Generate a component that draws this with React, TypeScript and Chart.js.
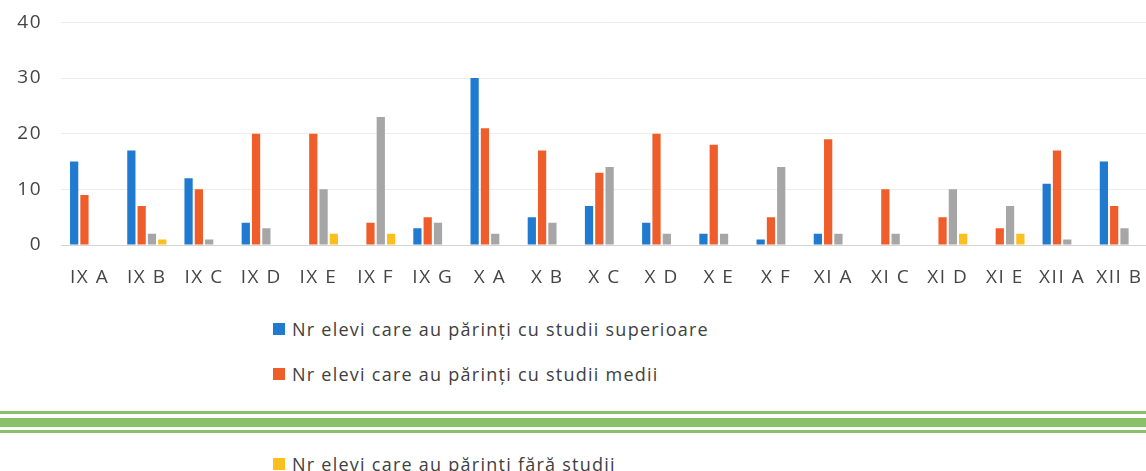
import React, { useEffect, useRef } from "react";
import { Chart, registerables } from "chart.js";

Chart.register(...registerables);

const categories = ["IX A", "IX B", "IX C", "IX D", "IX E", "IX F", "IX G", "X A", "X B", "X C", "X D", "X E", "X F", "XI A", "XI C", "XI D", "XI E", "XII A", "XII B"];
const superioare = [15, 17, 12, 4, 0, 0, 3, 30, 5, 7, 4, 2, 1, 2, 0, 0, 0, 11, 15];
const medii = [9, 7, 10, 20, 20, 4, 5, 21, 17, 13, 20, 18, 5, 19, 10, 5, 3, 17, 7];
const gimnaziale = [0, 2, 1, 3, 10, 23, 4, 2, 4, 14, 2, 2, 14, 2, 2, 10, 7, 1, 3];
const faraStudii = [0, 1, 0, 0, 2, 2, 0, 0, 0, 0, 0, 0, 0, 0, 0, 2, 2, 0, 0];
const seriesLabels = [
  "Nr elevi care au părinți cu studii superioare",
  "Nr elevi care au părinți cu studii medii",
  "Nr elevi care au părinți cu studii gimnaziale/școală profesională",
  "Nr elevi care au părinți fără studii",
];
const seriesColors = ["#1f7ad0", "#ef5d2a", "#a6a6a6", "#fbc01e"];
const yTicks = [0, 10, 20, 30, 40];

const FONT = "'Open Sans', sans-serif";

export default function App() {
  const ref = useRef<HTMLCanvasElement | null>(null);
  useEffect(() => {
    if (!ref.current) return;
    const spacing = {
      id: "spacing",
      beforeDraw(chart: any) {
        chart.ctx.letterSpacing = "1.5px";
      },
    };
    const chart = new Chart(ref.current, {
      type: "bar",
      data: {
        labels: categories,
        datasets: [superioare, medii, gimnaziale, faraStudii].map((d, i) => ({
          label: seriesLabels[i],
          data: d,
          backgroundColor: seriesColors[i],
          borderWidth: 0,
          categoryPercentage: 0.72,
          barPercentage: 0.8,
        })),
      },
      options: {
        responsive: false,
        animation: false,
        layout: { padding: { top: 12, right: 10, left: 0, bottom: 0 } },
        plugins: { legend: { display: false }, tooltip: { enabled: false } },
        scales: {
          x: {
            grid: { display: false, drawTicks: false },
            border: { display: true, color: "#d4d4d4", width: 1 },
            ticks: { font: { family: FONT, size: 19 }, color: "#454545", padding: 21, maxRotation: 0, autoSkip: false },
            afterFit: (s: any) => { s.height = 55; },
          },
          y: {
            min: 0,
            max: 40,
            afterBuildTicks: (s: any) => { s.ticks = yTicks.map((v) => ({ value: v })); },
            grid: { color: "#ececec", drawTicks: false },
            border: { display: false },
            ticks: { font: { family: FONT, size: 19 }, color: "#454545", padding: 19 },
            afterFit: (s: any) => { s.width = 61; },
          },
        },
      },
      plugins: [spacing],
    });
    return () => chart.destroy();
  }, []);

  const greenLines = [
    { top: 411, h: 3 },
    { top: 418, h: 9 },
    { top: 430, h: 3 },
  ];

  return (
    <div style={{ position: "fixed", left: 0, top: 0, width: 1146, height: 471, overflow: "hidden", background: "#fff" }}>
      <canvas ref={ref} width={1160} height={308} style={{ position: "absolute", left: 0, top: -8, width: 1160, height: 308 }} />
      <div style={{ position: "absolute", left: 273, top: 306, fontFamily: FONT, fontSize: 18, color: "#404040", letterSpacing: "1.25px" }}>
        {seriesLabels.map((l, i) => (
          <div key={i} style={{ height: 45, display: "flex", alignItems: "center", whiteSpace: "nowrap" }}>
            <span style={{ display: "inline-block", width: 12, height: 12, background: seriesColors[i], marginRight: 7 }} />
            <span>{l}</span>
          </div>
        ))}
      </div>
      <div style={{ position: "absolute", left: 0, width: 1146, top: 410, height: 25, background: "#fff" }} />
      {greenLines.map((g, i) => (
        <div key={i} style={{ position: "absolute", left: 0, width: 1146, top: g.top, height: g.h, background: "#89c068" }} />
      ))}
    </div>
  );
}
